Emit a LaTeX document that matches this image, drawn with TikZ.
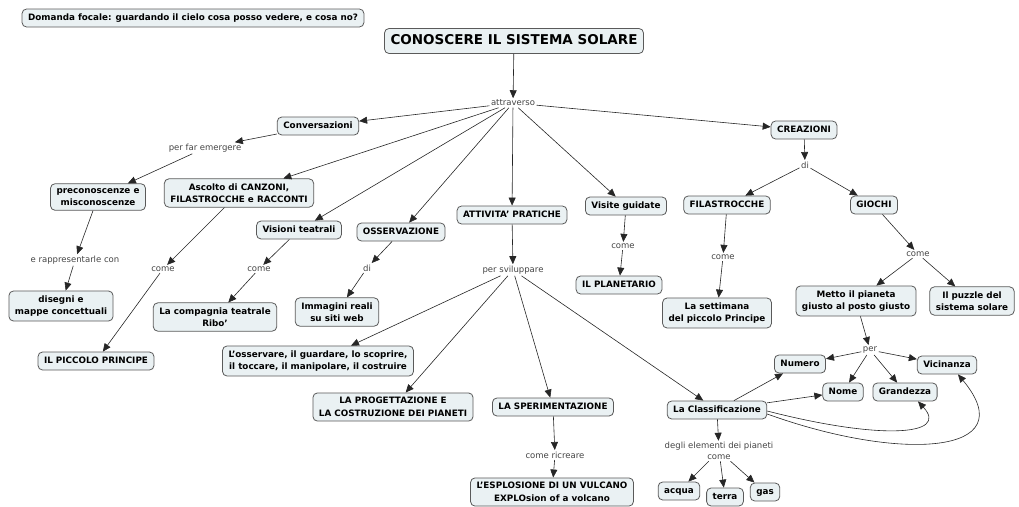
\documentclass[tikz,border=0pt]{standalone}
\usepackage{fontspec}
\setmainfont{DejaVu Sans}
\usetikzlibrary{arrows.meta}
\definecolor{cfill}{HTML}{EAF1F3}
\definecolor{cline}{HTML}{5A5A5A}
\definecolor{ltext}{HTML}{444444}

\begin{document}
\begin{tikzpicture}[x=1pt,y=-1pt,
    concept/.style={draw=cline,fill=cfill,rounded corners=4.5pt,line width=0.8pt,
      font=\bfseries\fontsize{8.8}{12.5}\selectfont,align=center,inner xsep=6pt,inner ysep=4.5pt},
    oneline/.style={concept,text height=7pt,text depth=2pt},
    link/.style={font=\fontsize{8.5}{10.5}\selectfont,text=ltext,inner sep=1.5pt,align=center},
    arr/.style={-{Triangle[length=8pt,width=7pt]},draw=black!85,line width=0.6pt}]
  \useasboundingbox (0,0) rectangle (1019,506);
  \node[oneline] (focal) at (193,18) {Domanda focale: guardando il cielo cosa posso vedere, e cosa no?};
  \node[oneline,font=\bfseries\fontsize{13.5}{16}\selectfont,text height=10pt,text depth=3pt,inner ysep=6pt] (title) at (514,41) {CONOSCERE IL SISTEMA SOLARE};
  \node[link] (attr) at (513,103) {attraverso};

  \node[oneline] (conv) at (318,126) {Conversazioni};
  \node[link] (emerg) at (205,148) {per far emergere};
  \node[concept] (precon) at (98,197) {preconoscenze e\\misconoscenze};
  \node[link] (rappr) at (75,260) {e rappresentarle con};
  \node[concept] (diseg) at (61,306) {disegni e\\mappe concettuali};

  \node[concept] (ascolto) at (239,193) {Ascolto di CANZONI,\\FILASTROCCHE e RACCONTI};
  \node[link] (comeA) at (163,269) {come};
  \node[oneline] (princ) at (96,361) {IL PICCOLO PRINCIPE};

  \node[oneline] (vision) at (299,230) {Visioni teatrali};
  \node[link] (comeV) at (259,269) {come};
  \node[concept] (ribo) at (215,317) {La compagnia teatrale\\Ribo'};

  \node[oneline] (osserv) at (401,232) {OSSERVAZIONE};
  \node[link] (diO) at (367,268) {di};
  \node[concept] (immag) at (337,312) {Immagini reali\\su siti web};

  \node[oneline] (attiv) at (512,215) {ATTIVITA' PRATICHE};
  \node[link] (svil) at (513,270) {per sviluppare};
  \node[concept] (osserv2) at (318,361) {L'osservare, il guardare, lo scoprire,\\il toccare, il manipolare, il costruire};
  \node[concept] (proget) at (393,407) {LA PROGETTAZIONE E\\LA COSTRUZIONE DEI PIANETI};
  \node[oneline] (speri) at (553,407) {LA SPERIMENTAZIONE};
  \node[link] (ricre) at (555,455) {come ricreare};
  \node[concept] (vulc) at (552,492) {L'ESPLOSIONE DI UN VULCANO\\EXPLOsion of a volcano};

  \node[oneline] (visite) at (626,206) {Visite guidate};
  \node[link] (comeP) at (623,246) {come};
  \node[oneline] (planet) at (619,285) {IL PLANETARIO};

  \node[oneline] (creaz) at (804,130) {CREAZIONI};
  \node[link] (diC) at (805,165) {di};
  \node[oneline] (filas) at (727,205) {FILASTROCCHE};
  \node[oneline] (giochi) at (874,205) {GIOCHI};
  \node[link] (comeF) at (723,257) {come};
  \node[concept] (settim) at (717,313) {La settimana\\del piccolo Principe};
  \node[link] (comeG) at (918,254) {come};
  \node[concept] (metto) at (856,301) {Metto il pianeta\\giusto al posto giusto};
  \node[concept] (puzzle) at (972,301) {Il puzzle del\\sistema solare};
  \node[link] (per) at (870,350) {per};
  \node[oneline] (numero) at (800,364) {Numero};
  \node[oneline] (vicin) at (947,365) {Vicinanza};
  \node[oneline] (nome) at (843,392) {Nome};
  \node[oneline] (grand) at (905,392) {Grandezza};

  \node[oneline] (classif) at (717,410) {La Classificazione};
  \node[link] (elem) at (719,451) {degli elementi dei pianeti\\come};
  \node[oneline] (acqua) at (679,491) {acqua};
  \node[oneline] (terra) at (725,497) {terra};
  \node[oneline] (gas) at (765,492) {gas};

  \draw[arr] (title) -- (attr);
  \foreach \t in {conv,ascolto,vision,osserv,attiv,visite,creaz}
    \draw[arr] (attr) -- (\t);
  \draw[arr] (conv) -- (emerg);
  \draw[arr] (emerg) -- (precon);
  \draw[arr] (precon) -- (rappr);
  \draw[arr] (rappr) -- (diseg);
  \draw[arr] (ascolto) -- (comeA);
  \draw[arr] (comeA) -- (princ);
  \draw[arr] (vision) -- (comeV);
  \draw[arr] (comeV) -- (ribo);
  \draw[arr] (osserv) -- (diO);
  \draw[arr] (diO) -- (immag);
  \draw[arr] (attiv) -- (svil);
  \foreach \t in {osserv2,proget,speri,classif}
    \draw[arr] (svil) -- (\t);
  \draw[arr] (speri) -- (ricre);
  \draw[arr] (ricre) -- (vulc);
  \draw[arr] (visite) -- (comeP);
  \draw[arr] (comeP) -- (planet);
  \draw[arr] (creaz) -- (diC);
  \draw[arr] (diC) -- (filas);
  \draw[arr] (diC) -- (giochi);
  \draw[arr] (filas) -- (comeF);
  \draw[arr] (comeF) -- (settim);
  \draw[arr] (giochi) -- (comeG);
  \draw[arr] (comeG) -- (metto);
  \draw[arr] (comeG) -- (puzzle);
  \draw[arr] (metto) -- (per);
  \foreach \t in {numero,nome,grand,vicin}
    \draw[arr] (per) -- (\t);
  \draw[arr] (classif) -- (numero);
  \draw[arr] (classif) -- (nome);
  \draw[arr] ([yshift=-1pt]classif.east) .. controls (880,440) and (950,436) .. ([xshift=13pt]grand.south);
  \draw[arr] ([yshift=-4pt]classif.east) .. controls (900,462) and (1025,455) .. ([xshift=11pt]vicin.south);
  \draw[arr] (classif) -- (elem);
  \foreach \t in {acqua,terra,gas}
    \draw[arr] (elem) -- (\t);
\end{tikzpicture}
\end{document}
